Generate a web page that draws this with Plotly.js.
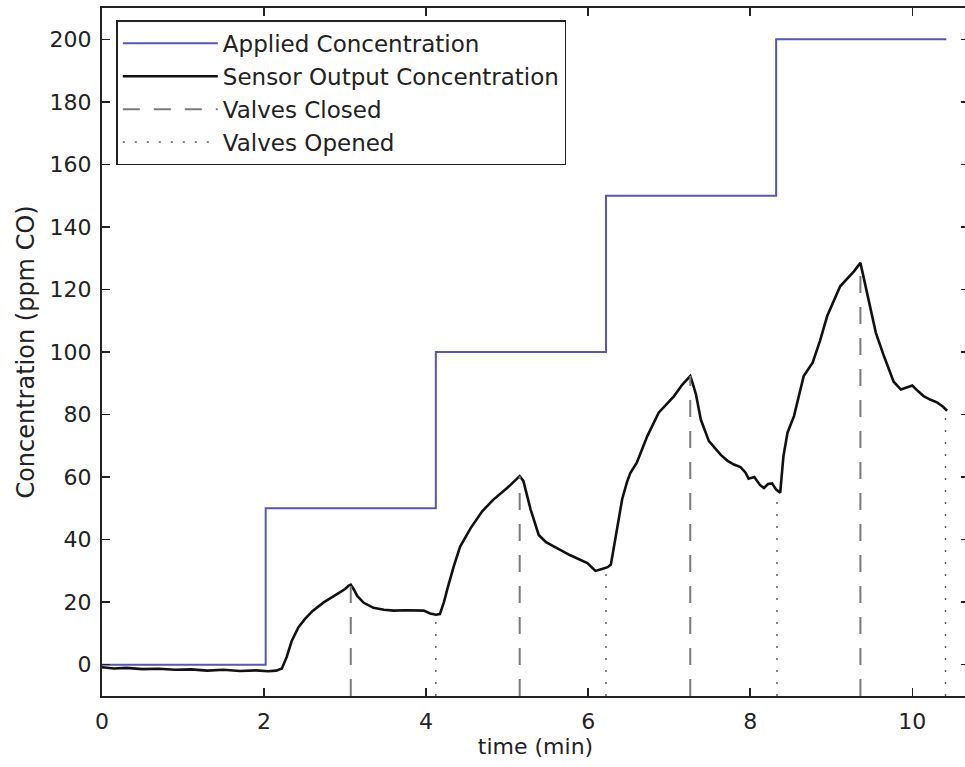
<!DOCTYPE html>
<html><head><meta charset="utf-8">
<script src="https://cdn.plot.ly/plotly-3.0.1.min.js"></script>
<style>html,body{margin:0;padding:0;overflow:hidden;background:#fff}</style>
</head><body><div id="chart" style="width:975px;height:767px"></div>
<script>
// Applied concentration steps (min, ppm CO)
const appliedTime = [0, 2.02, 4.12, 6.22, 8.32, 10.42];
const appliedConc = [0, 50, 100, 150, 200, 200];

// Sensor output concentration
const sensorTime = [0, 0.15, 0.3, 0.5, 0.7, 0.9, 1.1, 1.3, 1.5, 1.7, 1.9, 2.05, 2.15, 2.22, 2.28, 2.34, 2.42, 2.5, 2.6, 2.74, 2.9, 3.0, 3.045, 3.07, 3.11, 3.15, 3.23, 3.35, 3.48, 3.6, 3.75, 3.9, 3.97, 4.05, 4.12, 4.17, 4.22, 4.26, 4.34, 4.42, 4.55, 4.69, 4.83, 5.0, 5.12, 5.155, 5.2, 5.29, 5.39, 5.48, 5.58, 5.78, 5.99, 6.09, 6.17, 6.24, 6.28, 6.32, 6.36, 6.42, 6.48, 6.52, 6.60, 6.73, 6.87, 7.06, 7.16, 7.26, 7.29, 7.33, 7.39, 7.49, 7.64, 7.72, 7.80, 7.88, 7.94, 7.98, 8.05, 8.12, 8.17, 8.22, 8.27, 8.32, 8.37, 8.41, 8.46, 8.54, 8.66, 8.77, 8.86, 8.95, 9.11, 9.2, 9.28, 9.36, 9.44, 9.55, 9.65, 9.77, 9.86, 9.93, 10.0, 10.07, 10.14, 10.22, 10.31, 10.38, 10.43];
const sensorConc = [-0.8, -1.2, -1.0, -1.4, -1.3, -1.6, -1.5, -1.9, -1.6, -2.0, -1.8, -2.1, -1.9, -1.2, 2.5, 7.5, 11.8, 14.5, 17.2, 20.0, 22.6, 24.2, 25.3, 25.6, 24.0, 22.0, 19.8, 18.2, 17.6, 17.3, 17.4, 17.2, 17.3, 16.4, 16.0, 16.2, 20.0, 24.0, 31.4, 37.8, 43.7, 49.0, 52.8, 56.5, 59.4, 60.3, 58.8, 49.6, 41.5, 39.2, 37.8, 35.0, 32.5, 30.0, 30.6, 31.2, 32.0, 38.0, 45.0, 53.0, 58.5, 61.3, 64.6, 73.1, 80.6, 85.9, 89.5, 92.3, 90.0, 86.5, 78.4, 71.5, 67.0, 65.2, 64.0, 63.2, 61.5, 59.5, 60.0, 57.5, 56.5, 57.8, 58.0, 56.0, 55.0, 66.7, 74.2, 79.5, 92.3, 96.6, 103.5, 111.5, 121.0, 123.5, 125.8, 128.5, 119.0, 106.2, 98.7, 90.5, 88.0, 88.6, 89.3, 87.5, 85.9, 84.8, 83.8, 82.5, 81.2];

// Valve events
const closedTime = [3.07, 5.155, 7.26, 9.36];
const closedConc = [25.6, 60.3, 92.3, 128.5];
const openedTime = [4.12, 6.22, 8.33, 10.41];
const openedConc = [16.0, 31.0, 55.0, 81.5];
const baseConc = -10;

const xTicks = [0, 2, 4, 6, 8, 10];
const yTicks = [0, 20, 40, 60, 80, 100, 120, 140, 160, 180, 200];

function vlines(ts, vs) {
  const x = [], y = [];
  ts.forEach((t, i) => { x.push(t, t, null); y.push(baseConc, vs[i], null); });
  return {x, y};
}
const cl = vlines(closedTime, closedConc);
const op = vlines(openedTime, openedConc);

const FONT = 'DejaVu Sans, sans-serif';
const traces = [
  {x: appliedTime, y: appliedConc, type: 'scatter', mode: 'lines', name: 'Applied Concentration',
   line: {color: '#5454c4', width: 2, shape: 'hv'}},
  {x: sensorTime, y: sensorConc, type: 'scatter', mode: 'lines', name: 'Sensor Output Concentration',
   line: {color: '#111', width: 2.6}},
  {x: cl.x, y: cl.y, type: 'scatter', mode: 'lines', name: 'Valves Closed',
   line: {color: '#7a7a7a', width: 2, dash: '17px,14px'}},
  {x: op.x, y: op.y, type: 'scatter', mode: 'lines', name: 'Valves Opened',
   line: {color: '#555', width: 1.4, dash: '2px,10px'}}
];

const axCommon = {
  showgrid: false, zeroline: false, showline: true, linecolor: '#222', linewidth: 2,
  mirror: 'ticks', ticks: 'inside', ticklen: 8, tickwidth: 1.5, tickcolor: '#222',
  tickfont: {family: FONT, size: 22, color: '#222'}
};

const layout = {
  width: 975, height: 767,
  margin: {l: 102, r: 6, t: 8, b: 71},
  paper_bgcolor: '#fff', plot_bgcolor: '#fff',
  font: {family: FONT, size: 22, color: '#222'},
  xaxis: Object.assign({}, axCommon, {
    range: [0, 10.7], tickvals: xTicks, ticktext: xTicks.map(String), ticklabelstandoff: 5,
    title: {text: 'time (min)', font: {family: FONT, size: 22, color: '#222'}, standoff: 5}
  }),
  yaxis: Object.assign({}, axCommon, {
    range: [-10, 210], tickvals: yTicks, ticktext: yTicks.map(String), ticklabelstandoff: 4,
    title: {text: 'Concentration (ppm CO)', font: {family: FONT, size: 24, color: '#222'}, standoff: 8}
  }),
  showlegend: true,
  legend: {
    x: 0.0165, y: 0.982, xanchor: 'left', yanchor: 'top',
    bgcolor: '#fff', bordercolor: '#222', borderwidth: 1.5,
    font: {family: FONT, size: 23, color: '#222'},
    itemwidth: 95, tracegroupgap: 0
  }
};

Plotly.newPlot('chart', traces, layout, {displayModeBar: false, staticPlot: true});
</script>
</body></html>
